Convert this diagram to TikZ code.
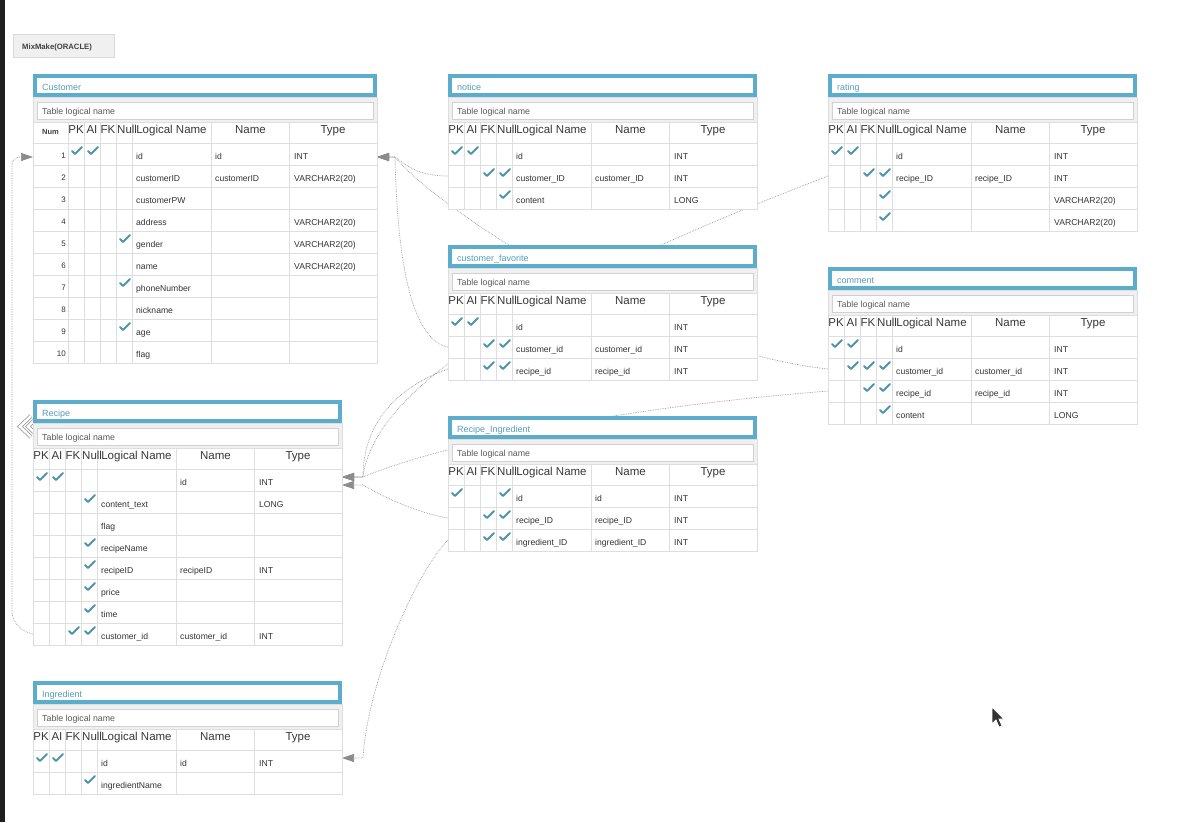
\documentclass[tikz,border=0pt]{standalone}
\usepackage{fontspec}
\setmainfont{Liberation Sans}
\usetikzlibrary{arrows.meta,calc}

\definecolor{frameblue}{RGB}{92,172,204}
\definecolor{titleteal}{RGB}{84,158,184}
\definecolor{chkteal}{RGB}{78,148,170}

\pgfdeclarelayer{bg}
\pgfsetlayers{bg,main}

\tikzset{
  grid/.style={draw=black!13, line width=1pt, fill=white},
  titleframe/.style={draw=frameblue, line width=4pt, fill=white},
  tlnbox/.style={draw=black!18, line width=0.8pt, fill=white},
  titletext/.style={anchor=base west, inner sep=0, text=titleteal, font=\fontsize{9}{10}\selectfont},
  tlntext/.style={anchor=base west, inner sep=0, text=black!65, font=\fontsize{8.8}{10}\selectfont},
  hdrtext/.style={anchor=base, inner sep=0, text=black!78, font=\fontsize{11.5}{13}\selectfont},
  numhdr/.style={anchor=base, inner sep=0, text=black!75, font=\bfseries\fontsize{7.5}{9}\selectfont},
  rowtext/.style={anchor=base west, inner sep=0, text=black!80, font=\fontsize{8.6}{10}\selectfont},
  numtext/.style={anchor=base east, inner sep=0, text=black!80, font=\fontsize{8}{10}\selectfont},
  chk/.style={draw=chkteal, line width=1.9pt, line cap=round, line join=round},
  fk/.style={densely dotted, draw=black!40, line width=0.7pt},
  fkarrow/.style={fk, -{Triangle[length=12pt,width=8pt,color=black!45]}}
}

% check mark in a cell: #1 = cell left, #2 = row top
\newcommand{\chk}[2]{\draw[chk] (#1+4,#2+8) -- ++(3,3) -- ++(7,-7);}

% table: #1 name, #2 x, #3 y, #4 title, #5 width of Num column, #6 rows
\newcommand{\ertable}[6]{%
  \begin{scope}[shift={(#2,#3)}]
    \draw[titleframe] (2,2) rectangle (#5+307,21);
    \node[titletext] (#1) at (9,16) {#4};
    \draw[grid, fill=black!6] (0,23) rectangle (#5+309,48);
    \draw[tlnbox] (4,28) rectangle (#5+305,45);
    \node[tlntext] (#1-tln) at (9,40) {Table logical name};
    \draw[grid] (0,48) rectangle (#5+309,69);
    \foreach \c in {0,16,32,48,64,143,221.5} \draw[grid] (#5+\c,48) -- (#5+\c,69);
    \ifnum#5>0 \node[numhdr] (#1-hnum) at (#5/2,60) {Num};\fi
    \node[hdrtext] (#1-hpk) at (#5+8,59) {PK};
    \node[hdrtext] (#1-hai) at (#5+24,59) {AI};
    \node[hdrtext] (#1-hfk) at (#5+40,59) {FK};
    \node[hdrtext, anchor=base west] (#1-hnul) at (#5+49,59) {Null};
    \node[hdrtext] (#1-hlg) at (#5+103.5,59) {Logical Name};
    \node[hdrtext] (#1-hnm) at (#5+182.5,59) {Name};
    \node[hdrtext] (#1-hty) at (#5+265,59) {Type};
    \foreach \pk/\ai/\fk/\nul/\lgc/\nmc/\tyc [count=\i] in {#6} {
      \pgfmathsetmacro{\rtop}{47+22*\i}
      \draw[grid] (0,\rtop) rectangle (#5+309,\rtop+22);
      \foreach \c in {0,16,32,48,64,143,221.5} \draw[grid] (#5+\c,\rtop) -- ++(0,22);
      \ifnum#5>0 \node[numtext] (#1-\i-num) at (#5-2,\rtop+15) {\i};\fi
      \ifnum\pk=1 \chk{#5}{\rtop}\fi
      \ifnum\ai=1 \chk{#5+16}{\rtop}\fi
      \ifnum\fk=1 \chk{#5+32}{\rtop}\fi
      \ifnum\nul=1 \chk{#5+48}{\rtop}\fi
      \node[rowtext] (#1-\i-lg) at (#5+68,\rtop+16.5) {\lgc};
      \node[rowtext] (#1-\i-nm) at (#5+147,\rtop+16.5) {\nmc};
      \node[rowtext] (#1-\i-ty) at (#5+226,\rtop+16.5) {\tyc};
      \coordinate (#1-\i-w) at (0,\rtop+11);
      \coordinate (#1-\i-e) at (#5+309,\rtop+11);
    }
  \end{scope}}

\begin{document}
\begin{tikzpicture}[x=1pt, y=-1pt]
    \begin{pgfonlayer}{bg}
    \fill[white] (0,0) rectangle (1177,822);
    \end{pgfonlayer}
    \useasboundingbox (0,0) rectangle (1177,822);
    \fill[black!88] (0,0) rectangle (5,822);

    \filldraw[fill=black!6, draw=black!15] (13,34) rectangle (114,57);
    \node[anchor=base west, inner sep=0, text=black!75, font=\bfseries\fontsize{7.7}{9}\selectfont] (proj) at (22,49) {MixMake(ORACLE)};

    % collapse mark left of Recipe
    \draw[black!45, line width=0.7pt, double=white, double distance=2.5pt] (31,416) -- (20,426.5) -- (31,437);
    \draw[black!45, line width=0.7pt, double=white, double distance=2.5pt] (39,416) -- (28,426.5) -- (39,437);

    \ertable{cust}{33}{74}{Customer}{35}{
        1/1/0/0/id/id/INT,
        0/0/0/0/customerID/customerID/VARCHAR2(20),
        0/0/0/0/customerPW/{}/{},
        0/0/0/0/address/{}/VARCHAR2(20),
        0/0/0/1/gender/{}/VARCHAR2(20),
        0/0/0/0/name/{}/VARCHAR2(20),
        0/0/0/1/phoneNumber/{}/{},
        0/0/0/0/nickname/{}/{},
        0/0/0/1/age/{}/{},
        0/0/0/0/flag/{}/{}}
    \ertable{notice}{448}{74}{notice}{0}{
        1/1/0/0/id/{}/INT,
        0/0/1/1/customer\_ID/customer\_ID/INT,
        0/0/0/1/content/{}/LONG}
    \ertable{rating}{828}{74}{rating}{0}{
        1/1/0/0/id/{}/INT,
        0/0/1/1/recipe\_ID/recipe\_ID/INT,
        0/0/0/1/{}/{}/VARCHAR2(20),
        0/0/0/1/{}/{}/VARCHAR2(20)}
    \ertable{cfav}{448}{245}{customer\_favorite}{0}{
        1/1/0/0/id/{}/INT,
        0/0/1/1/customer\_id/customer\_id/INT,
        0/0/1/1/recipe\_id/recipe\_id/INT}
    \ertable{comment}{828}{267}{comment}{0}{
        1/1/0/0/id/{}/INT,
        0/1/1/1/customer\_id/customer\_id/INT,
        0/0/1/1/recipe\_id/recipe\_id/INT,
        0/0/0/1/content/{}/LONG}
    \ertable{recipe}{33}{400}{Recipe}{0}{
        1/1/0/0/{}/id/INT,
        0/0/0/1/content\_text/{}/LONG,
        0/0/0/0/flag/{}/{},
        0/0/0/1/recipeName/{}/{},
        0/0/0/1/recipeID/recipeID/INT,
        0/0/0/1/price/{}/{},
        0/0/0/1/time/{}/{},
        0/0/1/1/customer\_id/customer\_id/INT}
    \ertable{rping}{448}{416}{Recipe\_Ingredient}{0}{
        1/0/0/1/id/id/INT,
        0/0/1/1/recipe\_ID/recipe\_ID/INT,
        0/0/1/1/ingredient\_ID/ingredient\_ID/INT}
    \ertable{ingr}{33}{681}{Ingredient}{0}{
        1/1/0/0/id/id/INT,
        0/0/0/1/ingredientName/{}/{}}

    % relations
    \begin{pgfonlayer}{bg}
    \coordinate (cust-in) at ($(cust-1-e)+(0,3)$);
    \coordinate (cust-jn) at ($(cust-1-e)+(18,3)$);
    \coordinate (custl-in) at ($(cust-1-w)+(0,3)$);
    \coordinate (rec-in-u) at ($(recipe-1-e)+(0,-3)$);
    \coordinate (rec-jn-u) at ($(recipe-1-e)+(21,-3)$);
    \coordinate (rec-in-l) at ($(recipe-1-e)+(0,5)$);
    \coordinate (rec-jn-l) at ($(recipe-1-e)+(21,5)$);
    \coordinate (ingr-in) at ($(ingr-1-e)+(0,-3)$);
    \coordinate (ingr-jn) at ($(ingr-1-e)+(21,-3)$);

    \draw[fkarrow] (notice-2-w) .. controls +(-25,0) and +(15,12) .. (cust-jn) -- (cust-in);
    \draw[fkarrow] (comment-2-w) .. controls +(-180,-20) and +(40,50) .. (cust-jn) -- (cust-in);
    \draw[fkarrow] (cfav-2-w) .. controls +(-40,-8) and +(2,90) .. (cust-jn) -- (cust-in);

    \draw[fkarrow] (rating-2-w) .. controls +(-268,103) and +(12,-97) .. (rec-jn-u) -- (rec-in-u);
    \draw[fkarrow] (cfav-3-w) .. controls +(-51,18) and +(0,-54) .. (rec-jn-u) -- (rec-in-u);
    \draw[fkarrow] (comment-3-w) .. controls +(-250,20) and +(60,-25) .. (rec-jn-u) -- (rec-in-u);
    \draw[fkarrow] (rping-2-w) .. controls +(-30,-5) and +(20,12) .. (rec-jn-l) -- (rec-in-l);

    \draw[fkarrow] (rping-3-w) .. controls +(-30,30) and +(5,-80) .. (ingr-jn) -- (ingr-in);

    \draw[fkarrow, rounded corners=8pt] (recipe-8-w) .. controls +(-15,-3) and +(0,15) .. ($(recipe-8-w)+(-21,-30)$) |- (custl-in);
    \end{pgfonlayer}

    % mouse pointer
    \filldraw[fill=black!80, draw=white, line width=0.8pt] (992,707) -- (992,724) -- (996,720) -- (999,727) -- (1002,726) -- (999,719) -- (1004,719) -- cycle;
\end{tikzpicture}
\end{document}
